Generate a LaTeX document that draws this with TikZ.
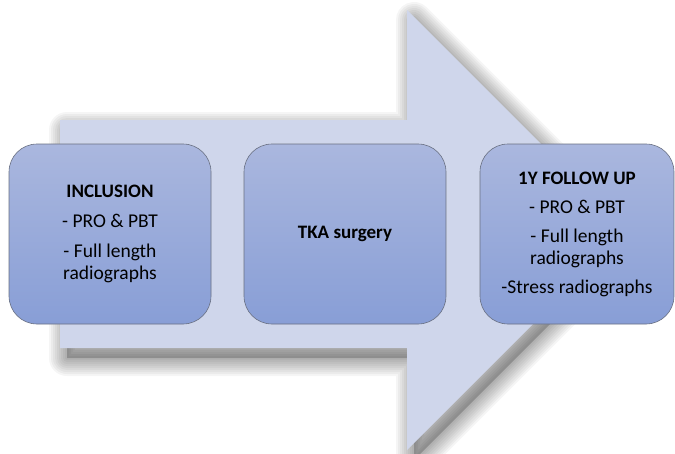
\documentclass[tikz,border=0pt]{standalone}
\usepackage{fontspec}
\setmainfont{Carlito}
\begin{document}
\begin{tikzpicture}[x=1pt,y=-1pt,
  stage/.style={draw={rgb,255:red,105;green,112;blue,130}, line width=0.6pt,
    rounded corners=28pt, top color={rgb,255:red,170;green,183;blue,222},
    bottom color={rgb,255:red,136;green,158;blue,214},
    minimum height=180pt, align=center, text=black,
    font=\fontsize{19.5}{22}\selectfont, inner sep=2pt},
  title/.style={font=\fontsize{19}{22}\selectfont\bfseries}]
\useasboundingbox (0,0) rectangle (675,453);
\def\arrowpath{(60,120) -- (407,120) -- (407,10) -- (627,230) -- (407,450) -- (407,348) -- (60,348) -- cycle}
% soft shadow
\begin{scope}[shift={(7,10)}]
\foreach \w in {36,32,28,24,20,16,12,8,4}{
  \draw[black, opacity=0.04, line width=\w pt, line join=round] \arrowpath;
}
\fill[black, opacity=0.2] \arrowpath;
\end{scope}
\fill[fill={rgb,255:red,207;green,214;blue,235}] \arrowpath;
\node[stage, minimum width=202pt] (inclusion) at (110,234)
  {{\fontsize{19}{22}\selectfont\bfseries INCLUSION}\\[8pt]- PRO \& PBT\\[8pt]- Full length\\radiographs};
\node[stage, minimum width=202pt] (surgery) at (345,234) {{\fontsize{19}{22}\selectfont\bfseries TKA surgery}};
\node[stage, minimum width=194pt] (followup) at (577,234)
  {{\fontsize{19}{22}\selectfont\bfseries 1Y FOLLOW UP}\\[7pt]- PRO \& PBT\\[7pt]- Full length\\radiographs\\[7pt]-Stress radiographs};
\end{tikzpicture}
\end{document}
